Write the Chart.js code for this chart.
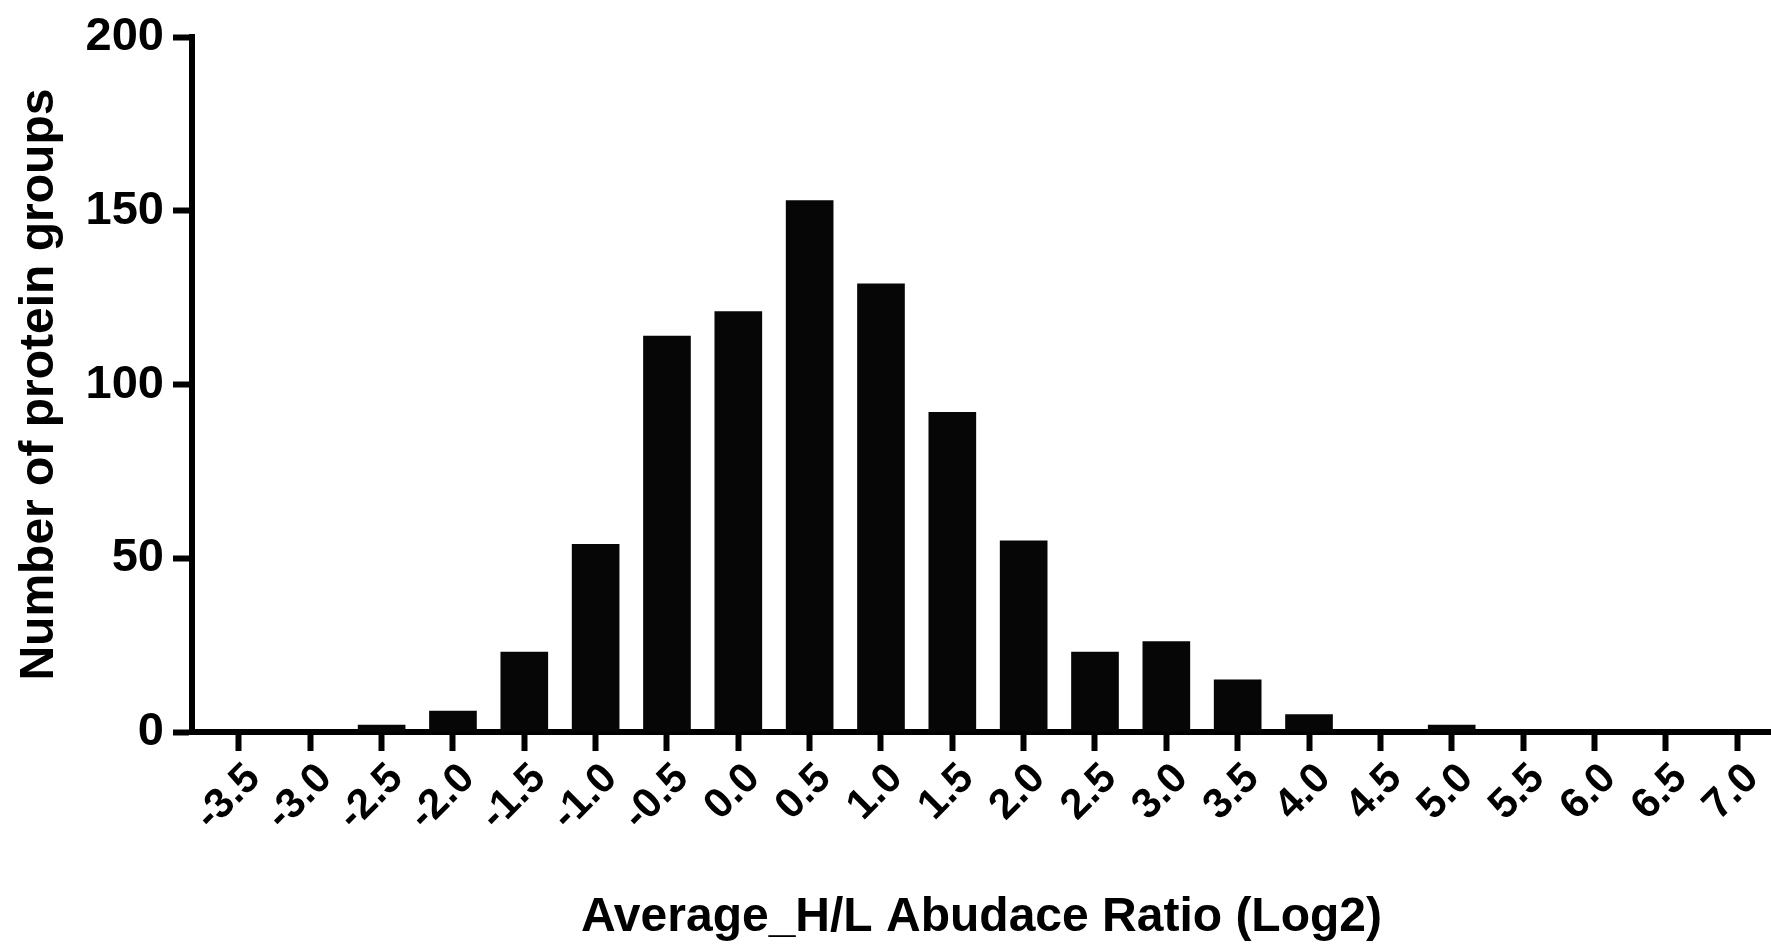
<!DOCTYPE html>
<html>
<head>
<meta charset="utf-8">
<title>H/L ratio histogram</title>
<script src="https://cdn.jsdelivr.net/npm/chart.js@4/dist/chart.umd.min.js"></script>
<style>
  html, body { margin: 0; padding: 0; background: #fff; }
  #wrap { width: 1771px; height: 949px; position: relative; }
</style>
</head>
<body>
<div id="wrap"><canvas id="chart"></canvas></div>
<script>
// bin centres (log2 ratio) and counts
const binCenters = [-3.5, -3.0, -2.5, -2.0, -1.5, -1.0, -0.5, 0.0, 0.5, 1.0, 1.5,
                    2.0, 2.5, 3.0, 3.5, 4.0, 4.5, 5.0, 5.5, 6.0, 6.5, 7.0];
const counts = [0, 0, 2, 6, 23, 54, 114, 121, 153, 129, 92,
                55, 23, 26, 15, 5, 0, 2, 0, 0, 0, 0];
const yTicks = [0, 50, 100, 150, 200];

const FONT = "'Liberation Sans', Arial, Helvetica, sans-serif";

new Chart(document.getElementById('chart').getContext('2d'), {
  type: 'bar',
  data: {
    datasets: [{
      data: binCenters.map((x, i) => ({ x, y: counts[i] })),
      backgroundColor: '#060606',
      borderWidth: 0,
      barThickness: 47
    }]
  },
  options: {
    responsive: true,
    maintainAspectRatio: false,
    animation: false,
    layout: { padding: { top: 32, left: 0, right: 0, bottom: 0 } },
    plugins: { legend: { display: false }, tooltip: { enabled: false } },
    scales: {
      x: {
        type: 'linear',
        offset: false,
        min: -3.829,
        max: 7.238,
        afterBuildTicks: s => { s.ticks = binCenters.map(v => ({ value: v })); },
        // axis runs to the right edge, like the figure
        afterFit: s => { s.height = 217; s.paddingRight = 0; s.paddingLeft = 0; },
        border: { display: true, color: '#000', width: 6 },
        grid: { offset: false, drawOnChartArea: false, drawTicks: true, tickLength: 19, tickWidth: 6, tickColor: '#000' },
        ticks: {
          autoSkip: false,
          minRotation: 45,
          maxRotation: 45,
          padding: 3,
          labelOffset: 15,
          color: '#000',
          font: { family: FONT, size: 42, weight: 'bold' },
          callback: v => Number(v).toFixed(1)
        },
        title: {
          display: true,
          text: 'Average_H/L Abudace Ratio (Log2)',
          color: '#000',
          font: { family: FONT, size: 48, weight: 'bold' },
          padding: { top: 0, bottom: 2 }
        }
      },
      y: {
        min: 0,
        max: 200,
        afterBuildTicks: s => { s.ticks = yTicks.map(v => ({ value: v })); },
        afterFit: s => { s.width = 192; },
        border: { display: true, color: '#000', width: 6 },
        grid: { drawOnChartArea: false, drawTicks: true, tickLength: 19, tickWidth: 6, tickColor: '#000' },
        ticks: {
          padding: 9,
          color: '#000',
          font: { family: FONT, size: 47, weight: 'bold' }
        },
        title: {
          display: true,
          text: 'Number of protein groups',
          color: '#000',
          font: { family: FONT, size: 48, weight: 'bold' },
          padding: { top: 11, bottom: 0 }
        }
      }
    }
  }
});
</script>
</body>
</html>
